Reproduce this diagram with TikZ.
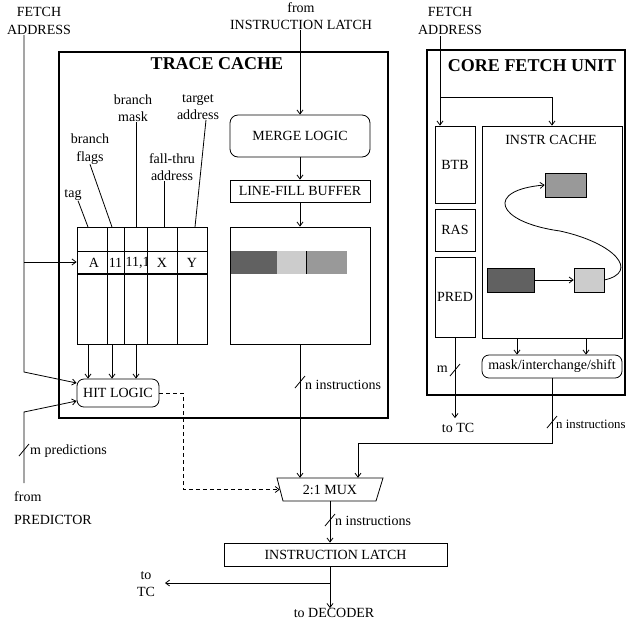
\documentclass[tikz,border=0pt]{standalone}
\usepackage{fontspec}
\setmainfont{Liberation Serif}
\usetikzlibrary{arrows.meta,calc}
\definecolor{dkg}{gray}{0.38}
\definecolor{mdg}{gray}{0.6}
\definecolor{ltg}{gray}{0.8}
\begin{document}
\begin{tikzpicture}[x=1pt,y=-1pt,
  every node/.style={inner sep=0pt, font=\fontsize{14}{17}\selectfont},
  ln/.style={line width=0.8pt},
  bx/.style={draw, line width=0.8pt},
  outerbox/.style={draw, line width=2.2pt},
  arr/.style={line width=0.8pt, -{Straight Barb[length=4pt,width=6pt]}},
  dsh/.style={arr, dash pattern=on 4pt off 3pt},
  ttl/.style={font=\bfseries\fontsize{18}{20}\selectfont},
  lbl/.style={align=center, font=\fontsize{14}{17.5}\selectfont},
  blk/.style={draw, line width=0.6pt}
]
\useasboundingbox (0,0) rectangle (628,622);

% outer boxes
\node[outerbox, minimum width=329pt, minimum height=366pt] (tc) at (223.5,235) {};
\node[outerbox, minimum width=198pt, minimum height=345pt] (cf) at (526,222.5) {};
\node[ttl] (tct) at (217,64) {TRACE CACHE};
\node[ttl] (cft) at (532,66) {CORE FETCH UNIT};

% top labels
\node[lbl] (fal) at (39,21) {FETCH\\ADDRESS};
\node[lbl] (far) at (450,21) {FETCH\\ADDRESS};
\node[lbl] (fil) at (301,16) {from\\INSTRUCTION LATCH};

% tag array
\node[bx, minimum width=130pt, minimum height=117pt] (tagarr) at (142,285.5) {};
\draw[ln] (77,251) -- (207,251);
\draw[line width=1.2pt] (77,274) -- (207,274);
\foreach \x in {107,124,147,177} \draw[ln] (\x,227) -- (\x,344);
\node (ta) at (94,263) {A};
\node (tb) at (115.5,263) {11};
\begin{scope}
  \clip (124.5,252) rectangle (146.5,273);
  \node[anchor=west] (tcx) at (125.5,263) {11,1};
\end{scope}
\node (td) at (162,263) {X};
\node (te) at (192,263) {Y};

% field labels
\node[lbl] (ltag) at (73,195) {tag};
\node[lbl] (lflags) at (90,149) {branch\\flags};
\node[lbl] (lmask) at (133,108) {branch\\mask};
\node[lbl] (ltarget) at (198,107) {target\\address};
\node[lbl] (lfall) at (172,167) {fall-thru\\address};
\coordinate (k1) at (88,227);
\coordinate (k2) at (112,227);
\coordinate (k3) at (136,227);
\coordinate (k4) at (164,227);
\coordinate (k5) at (195,227);
\draw[ln] ([xshift=5pt]ltag.south) -- (k1);
\draw[ln] (lflags.south) -- (k2);
\draw[ln] (k3 |- lmask.south) -- (k3);
\draw[ln] (k4 |- lfall.south) -- (k4);
\draw[ln] ([xshift=8pt]ltarget.south) -- (k5);

% hit logic
\node[bx, rounded corners=7pt, minimum width=82pt, minimum height=28pt] (hit) at (118,393) {HIT LOGIC};
\draw[arr] (tagarr.south -| k1) -- (hit.north -| k1);
\draw[arr] (tagarr.south -| k2) -- (hit.north -| k2);
\draw[arr] (tagarr.south -| k3) -- (hit.north -| k3);

% fetch address (left)
\coordinate (fa1) at (24,35);
\coordinate (fa2) at (24,372);
\coordinate (faj) at (24,262);
\draw[arr] (fa1) -- (fa2) -- ([yshift=10pt]hit.west);
\draw[arr] (faj) -- (faj -| tagarr.west);

% predictor
\coordinate (pr1) at (24,483);
\coordinate (pr2) at (24,412);
\draw[arr] (pr1) -- (pr2) -- ([yshift=-8pt]hit.west);
\coordinate (s0) at (24,450);
\draw[ln] (s0) ++(-5,6) -- ++(10,-12);
\node[anchor=west] (mpred) at (30,451) {m predictions};
\node[anchor=west] (fromp) at (14,497) {from};
\node[anchor=west] (predp) at (14,520) {PREDICTOR};

% merge / line-fill / data array
\node[bx, rounded corners=8pt, minimum width=140pt, minimum height=42pt] (merge) at (300,136) {MERGE LOGIC};
\node[bx, minimum width=140pt, minimum height=22pt] (lfb) at (300,191) {LINE-FILL BUFFER};
\fill[dkg] (230,251) rectangle (277,274);
\fill[ltg] (277,251) rectangle (306,274);
\fill[mdg] (306,251) rectangle (347,274);
\draw[line width=0.5pt] (306,251) -- (306,274);
\node[bx, minimum width=140pt, minimum height=117pt] (da) at (300,285.5) {};
\draw[arr] (merge.north |- fil.south) -- (merge.north);
\draw[arr] (merge.south) -- (lfb.north);
\draw[arr] (lfb.south) -- (da.north);

% mux
\node[minimum width=100pt, minimum height=23pt] (mux) at (330,489.5) {2:1 MUX};
\draw[ln] (277,478) -- (383,478) -- (376,501) -- (283,501) -- cycle;
\draw[arr] (da.south) -- (da.south |- mux.north);
\coordinate (s1) at (300,382);
\draw[ln] (s1) ++(-5,6) -- ++(10,-12);
\node[anchor=west] (ni1) at (305,385) {n instructions};

% dashed hit -> mux
\coordinate (d1) at (183,0);
\draw[dsh] (hit.east) -- (hit.east -| d1) -- (d1 |- mux.west) -- (mux.west);

% core fetch unit
\node[bx, minimum width=40pt, minimum height=77pt] (btb) at (455,164.5) {BTB};
\node[bx, minimum width=40pt, minimum height=42pt] (ras) at (455,230) {RAS};
\node[bx, minimum width=40pt, minimum height=80pt] (pred) at (455,297) {PRED};
\node[bx, minimum width=140pt, minimum height=212pt] (ic) at (552,232) {};
\node (ict) at (551,140) {INSTR CACHE};
\node[blk, fill=mdg, minimum width=41pt, minimum height=24pt] (ba) at (565.5,185) {};
\node[blk, fill=dkg, minimum width=47pt, minimum height=24pt] (bb) at (510.5,280) {};
\node[blk, fill=ltg, minimum width=30pt, minimum height=24pt] (bc) at (589,280) {};
\draw[arr] (bb.east) -- (bc.west);
\draw[arr] (bc.east) .. controls (640,272) and (615,243) .. (560,231) .. controls (495,222) and (485,190) .. (ba.west);

\coordinate (fr) at (440,36);
\coordinate (frj) at (440,97);
\draw[arr] (fr) -- (fr |- btb.north);
\draw[arr] (frj) -| (ic.north);

\node[bx, rounded corners=7pt, minimum width=140pt, minimum height=23pt] (mask) at (552,366.5) {mask/interchange/shift};
\coordinate (m1) at (517,0);
\coordinate (m2) at (586,0);
\draw[arr] (ic.south -| m1) -- (mask.north -| m1);
\draw[arr] (ic.south -| m2) -- (mask.north -| m2);

\node (totc2) at (458,428) {to TC};
\draw[arr] (pred.south) -- ($(pred.south |- totc2.north)+(0,-5)$);
\coordinate (s2) at (455,370);
\draw[ln] (s2) ++(-5,6) -- ++(10,-12);
\node[anchor=east] (mm) at (448,369) {m};

\coordinate (mj) at (358,443);
\draw[arr] (mask.south) |- (mj) -- (mj |- mux.north);
\coordinate (s3) at (552,422);
\draw[ln] (s3) ++(-5,6) -- ++(10,-12);
\node[anchor=west, font=\fontsize{12.8}{15}\selectfont] (ni2) at (556,424) {n instructions};

% instruction latch
\node[bx, minimum width=223pt, minimum height=23pt] (latch) at (335.5,554.5) {INSTRUCTION LATCH};
\draw[arr] (mux.south) -- (mux.south |- latch.north);
\coordinate (s4) at (330,520);
\draw[ln] (s4) ++(-5,6) -- ++(10,-12);
\node[anchor=west] (ni3) at (335,521) {n instructions};
\coordinate (lb) at (latch.south -| mux.south);
\node (dec) at (334,613) {to DECODER};
\draw[arr] (lb) -- (lb |- dec.north);
\coordinate (lj) at (330,583);
\coordinate (ltip) at (165,583);
\draw[arr] (lj) -- (ltip);
\node[lbl] (totc) at (146,584) {to\\TC};
\end{tikzpicture}
\end{document}
